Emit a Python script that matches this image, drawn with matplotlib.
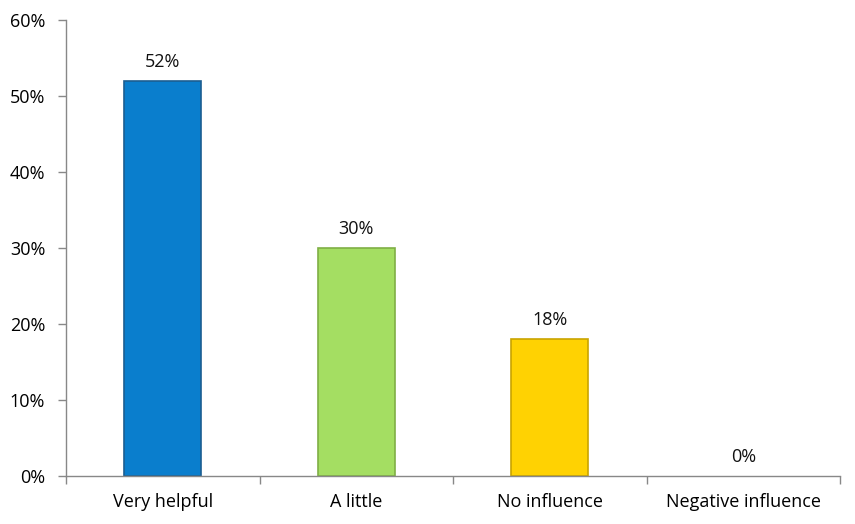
import matplotlib
matplotlib.use("Agg")
import matplotlib.pyplot as plt
from matplotlib.ticker import FixedLocator

categories = ["Very helpful", "A little", "No influence", "Negative influence"]
values = [52, 30, 18, 0]
labels = ["52%", "30%", "18%", "0%"]
yticks = [0, 10, 20, 30, 40, 50, 60]
ytick_labels = ["0%", "10%", "20%", "30%", "40%", "50%", "60%"]
colors = ["#0A7ECD", "#A4DE62", "#FFD202", "#FFFFFF"]
edges = ["#1B5E91", "#7FAF45", "#C9A400", "none"]

plt.rcParams['font.family'] = ['Open Sans', 'DejaVu Sans']

fig = plt.figure(figsize=(8.55, 5.24), dpi=100)
ax = fig.add_axes([66/855, 48/524, 774/855, 456/524])

x = list(range(len(categories)))
for xi, v, c, e in zip(x, values, colors, edges):
    if v > 0:
        ax.bar(xi, v, width=0.40, color=c, edgecolor=e, linewidth=1.2)
for xi, v, lab in zip(x, values, labels):
    ax.text(xi, v + 1.3, lab, ha="center", va="bottom", fontsize=13, color="#111111")

ax.set_xlim(-0.5, len(categories) - 0.5)
ax.set_ylim(0, 60)
ax.set_yticks(yticks)
ax.set_yticklabels(ytick_labels, fontsize=13)
ax.set_xticks(x)
ax.set_xticklabels(categories, fontsize=13)
ax.tick_params(axis="x", length=0, pad=12)
ax.xaxis.set_minor_locator(FixedLocator([i - 0.5 for i in range(len(categories) + 1)]))
ax.tick_params(axis="x", which="minor", length=6, color="#888888", width=1)
ax.tick_params(axis="y", length=6, color="#888888", width=1, pad=9)

for s in ["top", "right"]:
    ax.spines[s].set_visible(False)
for s in ["left", "bottom"]:
    ax.spines[s].set_color("#888888")
    ax.spines[s].set_linewidth(1)

fig.savefig("out.png", dpi=100)
